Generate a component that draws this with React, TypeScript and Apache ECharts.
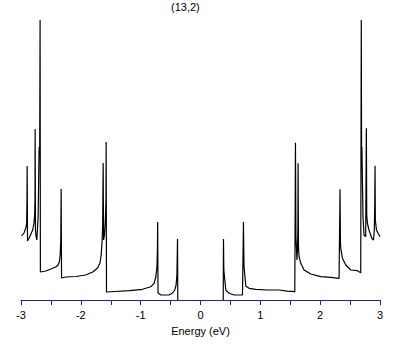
import React, { useEffect, useRef } from "react";
import * as echarts from "echarts";

const title = "(13,2)";
const xName = "Energy (eV)";
const xTickLabels = ["-3", "-2", "-1", "0", "1", "2", "3"];

// Density of states: [energy (eV), DOS (arb.)]
const valenceDos: [number, number][] = [
  [-2.99, 0.64], [-2.95, 0.67], [-2.92, 0.72], [-2.905, 0.76], [-2.9, 1.0],
  [-2.897, 1.34], [-2.891, 0.59], [-2.864, 0.62], [-2.835, 0.66], [-2.805, 0.7],
  [-2.785, 0.76], [-2.772, 0.85], [-2.766, 1.0], [-2.764, 1.71], [-2.758, 0.7],
  [-2.752, 0.65], [-2.735, 0.6], [-2.714, 0.83], [-2.697, 1.53], [-2.688, 1.45],
  [-2.681, 2.8], [-2.676, 0.28], [-2.585, 0.29], [-2.5, 0.31], [-2.42, 0.33],
  [-2.38, 0.35], [-2.36, 0.38], [-2.345, 0.45], [-2.335, 0.6], [-2.329, 1.11],
  [-2.322, 0.22], [-2.25, 0.23], [-2.08, 0.235], [-1.92, 0.25], [-1.8, 0.28],
  [-1.72, 0.32], [-1.68, 0.37], [-1.66, 0.45], [-1.645, 0.58], [-1.635, 0.75],
  [-1.627, 1.37], [-1.62, 0.6], [-1.605, 0.65], [-1.59, 0.8], [-1.58, 1.0],
  [-1.577, 1.58], [-1.571, 0.08], [-1.42, 0.085], [-1.19, 0.093], [-0.97, 0.107],
  [-0.83, 0.133], [-0.775, 0.167], [-0.747, 0.23], [-0.728, 0.33], [-0.72, 0.5],
  [-0.716, 0.78], [-0.71, 0.07], [-0.66, 0.05], [-0.525, 0.05], [-0.468, 0.07],
  [-0.43, 0.1], [-0.408, 0.15], [-0.394, 0.25], [-0.384, 0.61], [-0.38, 0],
];

// band gap: DOS is zero here (drawn under the axis line, so left as a break)
const gapDos: [number, number | null][] = [
  [0, null],
];

const conductionDos: [number, number][] = [
  [0.38, 0], [0.384, 0.61], [0.39, 0.3], [0.423, 0.1], [0.478, 0.067],
  [0.561, 0.05], [0.702, 0.05], [0.718, 0.78], [0.723, 0.5], [0.728, 0.333],
  [0.757, 0.14], [0.812, 0.117], [0.924, 0.107], [1.119, 0.1], [1.313, 0.1],
  [1.45, 0.088], [1.576, 0.083], [1.587, 1.573], [1.595, 0.63], [1.612, 0.4],
  [1.62, 0.5], [1.628, 0.7], [1.631, 1.367], [1.637, 0.55], [1.647, 0.433],
  [1.676, 0.367], [1.731, 0.3], [1.843, 0.26], [2.01, 0.233], [2.177, 0.227],
  [2.316, 0.217], [2.332, 1.107], [2.338, 0.6], [2.344, 0.517], [2.373, 0.417],
  [2.428, 0.35], [2.511, 0.3], [2.623, 0.293], [2.678, 0.273], [2.687, 2.8],
  [2.692, 1.45], [2.697, 1.53], [2.716, 0.83], [2.733, 0.65], [2.761, 0.633],
  [2.772, 1.717], [2.778, 0.85], [2.789, 0.77], [2.816, 0.7], [2.862, 0.617],
  [2.891, 0.6], [2.905, 0.7], [2.912, 0.95], [2.917, 1.343], [2.922, 0.8],
  [2.941, 0.7], [2.974, 0.66], [3.0, 0.633],
];

export default function App() {
  const ref = useRef<HTMLDivElement>(null);
  useEffect(() => {
    if (!ref.current) return;
    const chart = echarts.init(ref.current, null, { renderer: "svg" });
    const data = [...valenceDos, ...gapDos, ...conductionDos];
    chart.setOption({
      animation: false,
      backgroundColor: "#ffffff",
      title: {
        text: title,
        left: 171,
        top: 1,
        padding: 0,
        textStyle: {
          fontSize: 11,
          fontWeight: "normal",
          color: "#000",
          fontFamily: "sans-serif",
        },
      },
      grid: { left: 21, right: 29, top: 20, bottom: 45 },
      xAxis: {
        type: "value",
        min: -3,
        max: 3,
        interval: 0.5,
        z: 5,
        name: xName,
        nameLocation: "middle",
        nameGap: 25,
        nameTextStyle: { fontSize: 11, color: "#000", fontFamily: "sans-serif" },
        axisLine: { show: true, lineStyle: { color: "#1c1cc8", width: 1 } },
        axisTick: { show: true, length: 5, lineStyle: { color: "#1c1cc8" } },
        splitLine: { show: false },
        axisLabel: {
          fontSize: 11,
          color: "#000",
          margin: 9,
          fontFamily: "sans-serif",
          formatter: (v: number) => {
            if (Math.abs(v - Math.round(v)) > 1e-6) return "";
            const idx = Math.round(v) + 3;
            return xTickLabels[idx] ?? "";
          },
        },
      },
      yAxis: {
        type: "value",
        min: 0,
        max: 2.8,
        show: false,
        splitLine: { show: false },
      },
      series: [
        {
          type: "line",
          data,
          showSymbol: false,
          symbol: "none",
          connectNulls: false,
          z: 1,
          lineStyle: { color: "#000", width: 1.2 },
        },
      ],
    });
    return () => chart.dispose();
  }, []);
  return (
    <div
      ref={ref}
      style={{ position: "fixed", left: 0, top: 0, width: 409, height: 345 }}
    />
  );
}
